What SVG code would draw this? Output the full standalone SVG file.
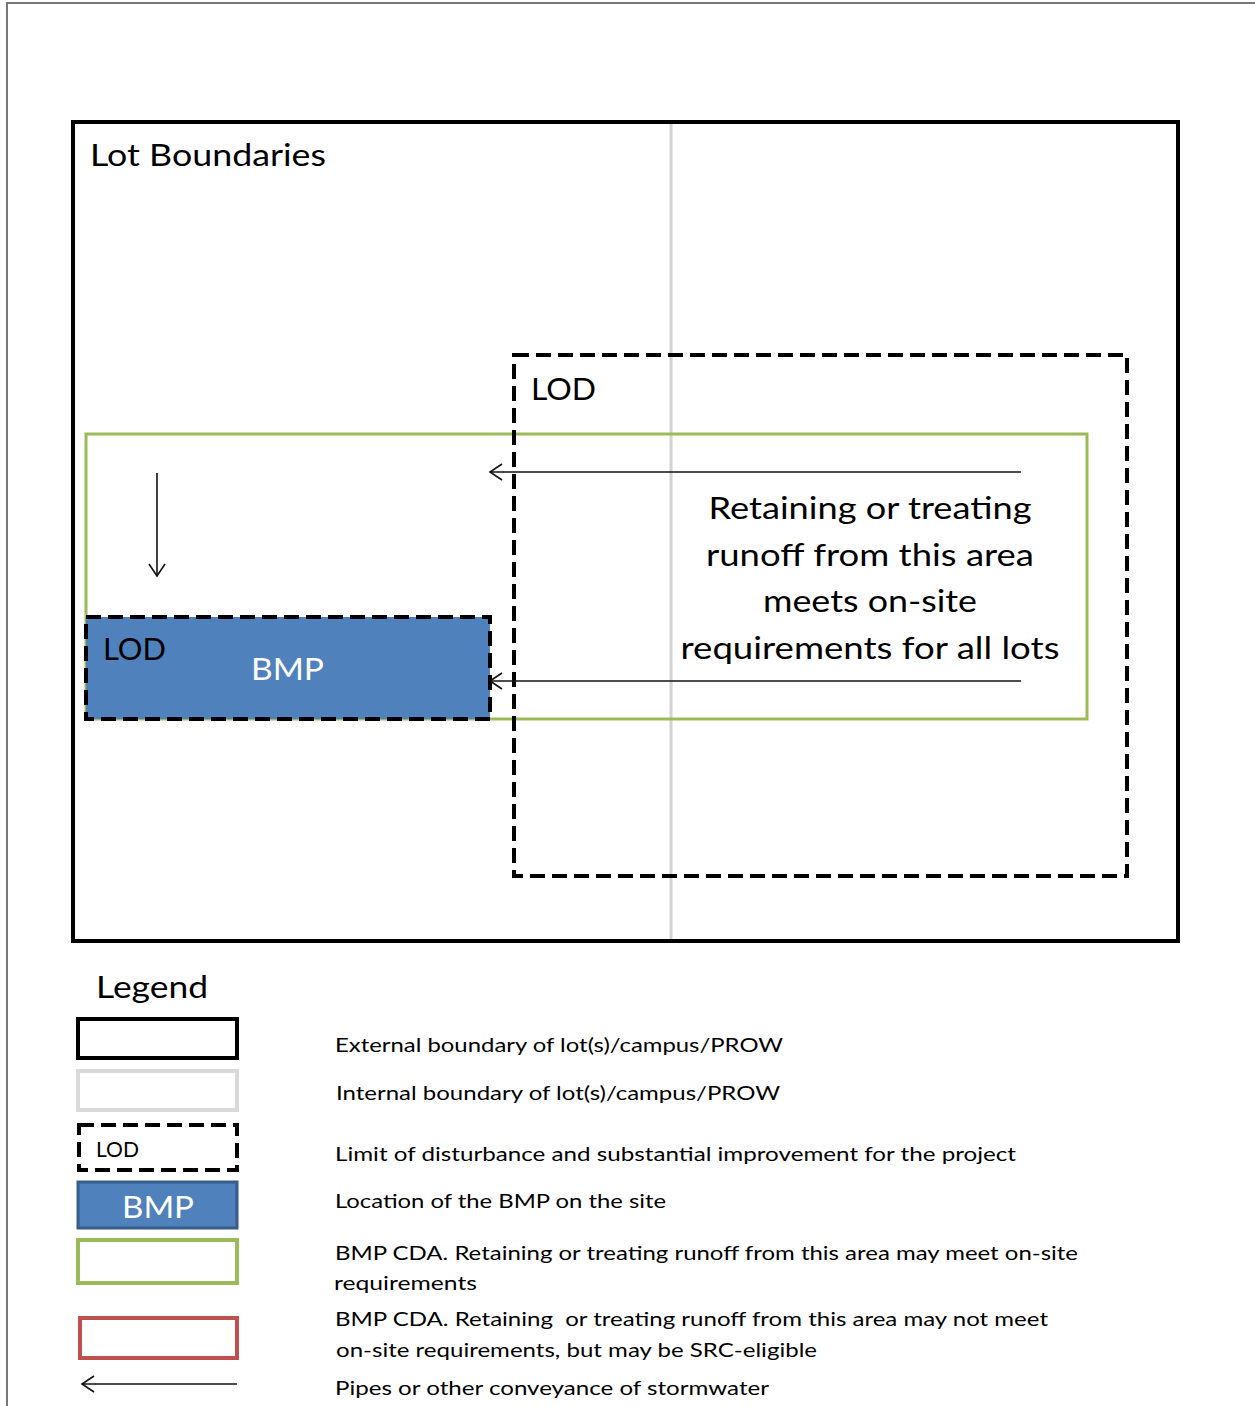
<svg xmlns="http://www.w3.org/2000/svg" width="1255" height="1406" viewBox="0 0 1255 1406">
<style>
text{font-family:Lato,"Open Sans","Liberation Sans",sans-serif;fill:#000}
.big{font-size:31px}
.lg{font-size:20px}
.w{fill:#fff}
.lod{fill:none;stroke:#000;stroke-width:4;stroke-dasharray:15 7}
.pipe{stroke:#111;stroke-width:1.6;fill:none;marker-end:url(#chev)}
</style>
<defs>
<marker id="chev" viewBox="0 0 20 20" refX="18" refY="10" markerWidth="20" markerHeight="20" markerUnits="userSpaceOnUse" orient="auto">
<path d="M6,2 L18,10 L6,18" fill="none" stroke="#111" stroke-width="1.6"/>
</marker>
</defs>
<rect width="1255" height="1406" fill="#fff"/>
<path d="M7,1406 V3 H1255" fill="none" stroke="#777" stroke-width="2"/>

<g id="lot-boundary">
<rect x="73" y="122" width="1105" height="819" fill="none" stroke="#000" stroke-width="4"/>
<text class="big" x="90" y="166" textLength="236" lengthAdjust="spacingAndGlyphs">Lot Boundaries</text>
</g>
<g id="internal-boundary">
<line x1="671" y1="124" x2="671" y2="939" stroke="#d3d3d3" stroke-width="3"/>
</g>
<g id="cda-green">
<rect x="86" y="434" width="1001" height="285" fill="none" stroke="#9bbb59" stroke-width="3"/>
<text class="big" text-anchor="middle" x="870" y="519" textLength="323" lengthAdjust="spacingAndGlyphs">Retaining or treating</text>
<text class="big" text-anchor="middle" x="870" y="566" textLength="328" lengthAdjust="spacingAndGlyphs">runoff from this area</text>
<text class="big" text-anchor="middle" x="870" y="612" textLength="214" lengthAdjust="spacingAndGlyphs">meets on-site</text>
<text class="big" text-anchor="middle" x="870" y="659" textLength="379" lengthAdjust="spacingAndGlyphs">requirements for all lots</text>
</g>
<g id="lod-large">
<rect x="514" y="355" width="613" height="521" class="lod"/>
<text class="big" x="531" y="400" textLength="65" lengthAdjust="spacingAndGlyphs">LOD</text>
</g>
<g id="bmp">
<rect x="86" y="617" width="404" height="102" fill="#4f81bd" class="lod" style="fill:#4f81bd"/>
<text class="big" x="103" y="660" textLength="63" lengthAdjust="spacingAndGlyphs">LOD</text>
<text class="big w" x="251" y="680" textLength="73" lengthAdjust="spacingAndGlyphs">BMP</text>
</g>

<g id="connectors">
<line class="pipe" x1="1021" y1="472" x2="490" y2="472"/>
<line class="pipe" x1="1021" y1="681" x2="490" y2="681"/>
<line class="pipe" x1="157" y1="473" x2="157" y2="576"/>
</g>

<g id="legend">
<text class="big" x="96" y="998" textLength="112" lengthAdjust="spacingAndGlyphs">Legend</text>
<rect x="78" y="1019" width="159" height="39" fill="none" stroke="#000" stroke-width="4"/>
<rect x="78" y="1071" width="159" height="39" fill="none" stroke="#d9d9d9" stroke-width="4"/>
<rect x="79" y="1125" width="158" height="45" class="lod"/>
<text x="96" y="1157" style="font-size:21px" textLength="43" lengthAdjust="spacingAndGlyphs">LOD</text>
<rect x="78" y="1182" width="159" height="46" fill="#4f81bd" stroke="#385d8a" stroke-width="3"/>
<text class="big w" x="122" y="1218" textLength="72" lengthAdjust="spacingAndGlyphs">BMP</text>
<rect x="78" y="1240" width="159" height="43" fill="none" stroke="#9bbb59" stroke-width="4"/>
<rect x="80" y="1318" width="157" height="40" fill="none" stroke="#c0504d" stroke-width="4"/>
<line class="pipe" x1="237" y1="1384" x2="82" y2="1384"/>

<text class="lg" x="335" y="1052" textLength="448" lengthAdjust="spacingAndGlyphs">External boundary of lot(s)/campus/PROW</text>
<text class="lg" x="336" y="1100" textLength="444" lengthAdjust="spacingAndGlyphs">Internal boundary of lot(s)/campus/PROW</text>
<text class="lg" x="335" y="1161" textLength="681" lengthAdjust="spacingAndGlyphs">Limit of disturbance and substantial improvement for the project</text>
<text class="lg" x="335" y="1208" textLength="331" lengthAdjust="spacingAndGlyphs">Location of the BMP on the site</text>
<text class="lg" x="335" y="1260" textLength="743" lengthAdjust="spacingAndGlyphs">BMP CDA. Retaining or treating runoff from this area may meet on-site</text>
<text class="lg" x="334" y="1290" textLength="143" lengthAdjust="spacingAndGlyphs">requirements</text>
<text class="lg" x="335" y="1326" textLength="713" lengthAdjust="spacingAndGlyphs" xml:space="preserve">BMP CDA. Retaining  or treating runoff from this area may not meet</text>
<text class="lg" x="336" y="1357" textLength="481" lengthAdjust="spacingAndGlyphs">on-site requirements, but may be SRC-eligible</text>
<text class="lg" x="335" y="1395" textLength="434" lengthAdjust="spacingAndGlyphs">Pipes or other conveyance of stormwater</text>
</g>
</svg>
